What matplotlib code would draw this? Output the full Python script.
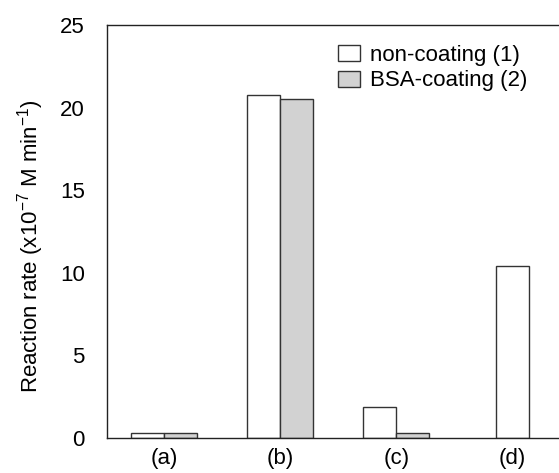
import numpy as np
import matplotlib
matplotlib.use("Agg")
from matplotlib import pyplot as plt

plt.rcParams['font.family'] = ['Liberation Sans', 'DejaVu Sans']
plt.rcParams['mathtext.fontset'] = 'custom'
plt.rcParams['mathtext.rm'] = 'Liberation Sans'
plt.rcParams['mathtext.it'] = 'Liberation Sans'

# data
samples = ['(a)', '(b)', '(c)', '(d)']
nonCoating = [0.3, 20.75, 1.85, 10.4]
bsaCoating = [0.3, 20.55, 0.32, np.nan]   # (d) has no BSA bar
series = ['non-coating (1)', 'BSA-coating (2)']

anchoW = 0.285
colBlanco = 'white'
colGris = '#d2d2d2'
borde = '#333333'
fuenteTam = 16

fig = plt.figure(figsize=(5.59, 4.73), dpi=100)
ax = fig.add_axes([107/559, 35/473, 1 - 107/559, (438-25)/473])

x = np.arange(len(samples))
for i in range(len(samples)):
    if np.isnan(bsaCoating[i]):
        ax.bar(x[i], nonCoating[i], anchoW, color=colBlanco, edgecolor=borde, lw=1,
               label=series[0] if i == 0 else None)
    else:
        ax.bar(x[i] - anchoW/2, nonCoating[i], anchoW, color=colBlanco, edgecolor=borde, lw=1,
               label=series[0] if i == 0 else None)
        ax.bar(x[i] + anchoW/2, bsaCoating[i], anchoW, color=colGris, edgecolor=borde, lw=1,
               label=series[1] if i == 0 else None)

ax.set_xlim(-0.49, 3.4)
ax.set_ylim(0, 25)
ax.set_yticks([0, 5, 10, 15, 20, 25])
ax.set_xticks(x)
ax.set_xticklabels(samples)
ax.tick_params(length=0, labelsize=fuenteTam)
ax.tick_params(axis='y', pad=16)
ax.tick_params(axis='x', pad=7)

for s in ['left', 'top', 'bottom']:
    ax.spines[s].set_color('#222222')
    ax.spines[s].set_linewidth(1)
ax.spines['right'].set_visible(False)

ax.set_ylabel(r'Reaction rate (x10$^{-7}$ M min$^{-1}$)', fontsize=fuenteTam)
ax.yaxis.set_label_coords(-0.135, 0.465)

ax.legend(loc='upper left', bbox_to_anchor=(0.491, 0.973), frameon=False, fontsize=fuenteTam,
          handlelength=1.0, handleheight=0.75, handletextpad=0.45, labelspacing=0.2,
          borderaxespad=0)

fig.savefig('out.png', dpi=100)
